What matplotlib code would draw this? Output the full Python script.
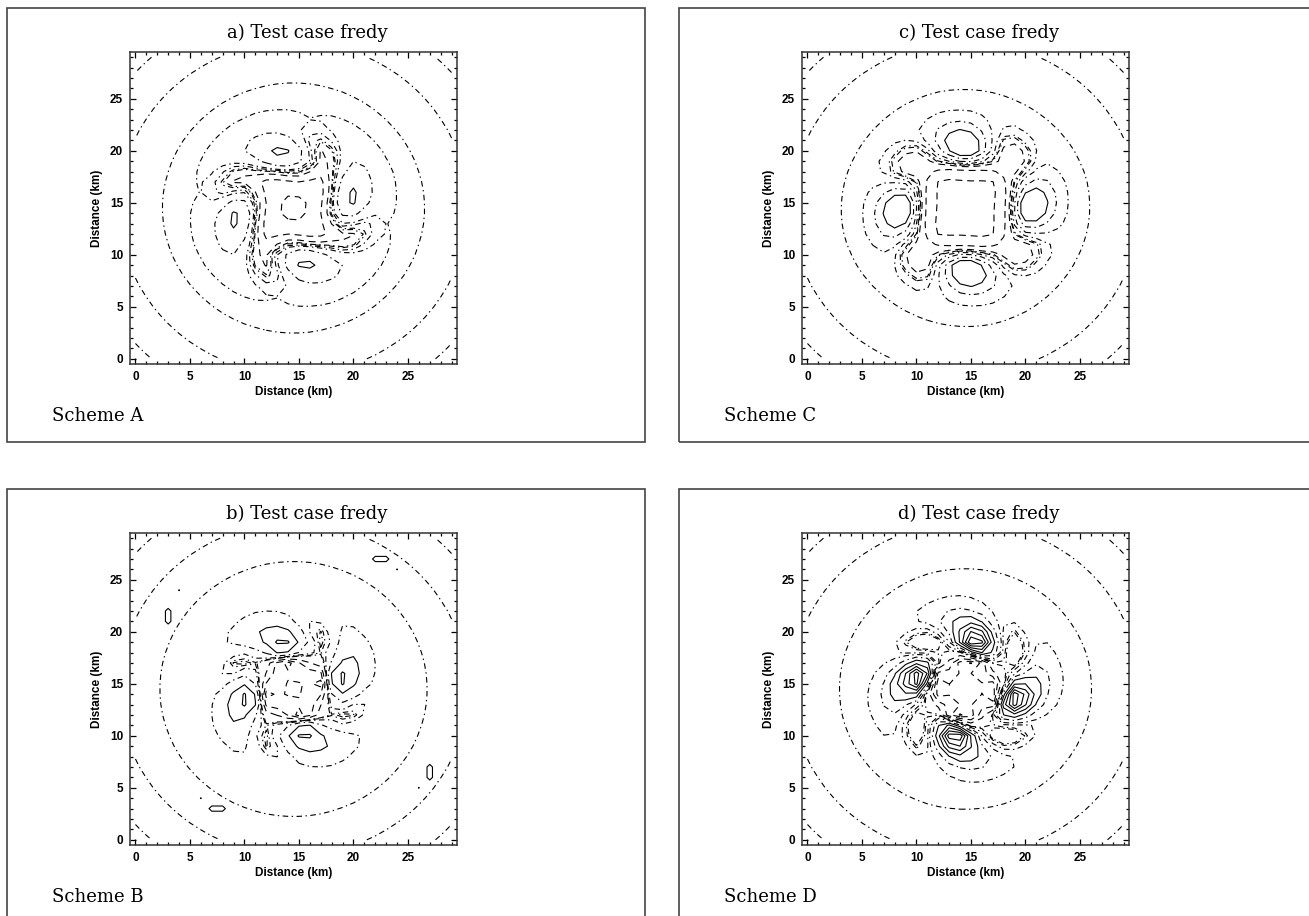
import numpy as np
import matplotlib.pyplot as plt
from matplotlib.patches import Rectangle

plt.rcParams['lines.scale_dashes'] = False

W, H = 1309, 916

titles = ["a) Test case fredy", "b) Test case fredy",
          "c) Test case fredy", "d) Test case fredy"]
schemes = ["Scheme A", "Scheme B", "Scheme C", "Scheme D"]
ticks = [0, 5, 10, 15, 20, 25]

# 30 x 30 grid, 1 km spacing, vortex centre
n = 30
xc, yc = 14.5, 14.5

# satellite maxima of each scheme (km)
sat_a_x = [13.5, 19.5, 15.4, 9.5]
sat_a_y = [19.5, 15.3, 9.5, 13.7]
sat_b_x = [13.5, 18.5, 15.5, 10.5]
sat_b_y = [18.5, 15.5, 10.5, 13.5]
sat_c_x = [14.5, 20.2, 14.5, 8.9]
sat_c_y = [20.0, 14.5, 9.0, 14.5]
sat_d_x = [15.3, 18.7, 13.6, 10.4]
sat_d_y = [18.8, 13.6, 10.2, 15.5]
sat_amp = [0.35, 1.15, 0.55, 2.4]
sat_width = [0.9, 0.9, 1.0, 1.3]

# core depth, core edge, central dip of each scheme
core_depth = [0.5, 0.9, 1.0, 1.0]
core_r0 = [4.2, 3.4, 4.6, 3.4]
core_dip = [0.5, 0.4, 0.0, 0.6]

# wavenumber-4 spiral band of each scheme
mod_amp = [0.9, 0.8, 1.0, 1.0]
mod_r = [5.5, 5.2, 6.3, 5.5]
mod_phase = [10.0, 14.0, 0.0, -10.5]
mod_twist = [0.45, 0.5, 0.15, 0.45]

# inner negative arcs facing the satellites (schemes B and D)
arc_amp = [0.0, -0.9, 0.0, -2.0]
arc_r = [3.0, 2.6, 3.0, 3.0]

# isolated grid-point spikes of scheme B
spike_b_i = [3, 3, 4, 22, 23, 24, 27, 27, 26, 7, 8, 6]
spike_b_j = [21, 22, 24, 27, 27, 26, 7, 6, 5, 3, 3, 4]
spike_b_v = [1.6, 1.6, 1.25, 1.6, 1.6, 1.25, 1.6, 1.6, 1.25, 1.6, 1.6, 1.25]

# contour levels of each scheme
levels_a = [-0.8, -0.4, -0.1, 0.05, 0.1, 0.22, 0.35, 0.8, 1.6]
levels_b = [-1.6, -1.2, -0.8, -0.4, 0.05, 0.1, 0.21, 0.55, 1.2, 2.0]
levels_c = [-0.9, -0.5, -0.1, 0.05, 0.1, 0.25, 0.45, 0.8, 1.2, 2.0]
levels_d = [-2.4, -2.0, -1.6, -1.2, -0.8, -0.4, 0.05, 0.1, 0.24, 0.45, 0.8,
            1.2, 1.7, 2.2, 2.7, 3.2]

DASH = (0, (5, 3.5))
DASHDOT = (0, (4, 2.5, 1, 2.5))


def styles(levels):
    out = []
    for v in levels:
        if v < 0:
            out.append(DASH)
        elif v < 1.0:
            out.append(DASHDOT)
        else:
            out.append('solid')
    return out


def field(k, sx, sy):
    X, Y = np.meshgrid(np.arange(n, dtype=float), np.arange(n, dtype=float))
    r = np.hypot(X - xc, Y - yc)
    th = np.arctan2(Y - yc, X - xc)
    s = 1.0 / (1.0 + np.exp(-(r - core_r0[k]) / 0.5))
    f = 2.37 * np.exp(-r / 5.05) * s - core_depth[k] * (1 - s)
    f -= core_dip[k] * np.exp(-(r / 1.8) ** 2)
    phase = 4 * (th - np.radians(mod_phase[k]))
    f += mod_amp[k] * np.exp(-((r - mod_r[k]) / 2.0) ** 2) * np.cos(
        phase - mod_twist[k] * (r - 5.0))
    f += arc_amp[k] * np.exp(-((r - arc_r[k]) / 0.7) ** 2) * (1 + np.cos(phase)) / 2
    for x0, y0 in zip(sx, sy):
        f += sat_amp[k] * np.exp(-((X - x0) ** 2 + (Y - y0) ** 2) / sat_width[k] ** 2)
    return f


fa = field(0, sat_a_x, sat_a_y)
fb = field(1, sat_b_x, sat_b_y)
fc = field(2, sat_c_x, sat_c_y)
fd = field(3, sat_d_x, sat_d_y)

# spikes only carry the solid isoline
spikes_b = np.zeros((n, n))
for i, j, v in zip(spike_b_i, spike_b_j, spike_b_v):
    spikes_b[j, i] = v

fields = [fa, fb, fc, fd]
levels = [levels_a, levels_b, levels_c, levels_d]

fig = plt.figure(figsize=(W / 100, H / 100), dpi=100)

# framed boxes, top-left corners in pixels
box_x = [7, 7, 679, 679]
box_y = [8, 489, 8, 489]

serif = 'DejaVu Serif'
sans = 'Liberation Sans'

for k in range(4):
    bx, by = box_x[k], box_y[k]
    fig.add_artist(Rectangle((bx / W, 1 - (by + 434) / H), 638 / W, 434 / H,
                             transform=fig.transFigure, fill=False,
                             edgecolor='#444444', lw=1.2))
    ax = fig.add_axes([(bx + 123) / W, 1 - (by + 356) / H, 327 / W, 312 / H])
    ax.contour(np.arange(n), np.arange(n), fields[k], levels=levels[k],
               colors='black', linewidths=0.8, linestyles=styles(levels[k]))
    if k == 1:
        ax.contour(np.arange(n), np.arange(n), spikes_b, levels=[1.2],
                   colors='black', linewidths=0.8)
    ax.set_xlim(-0.5, 29.5)
    ax.set_ylim(-0.5, 29.5)
    ax.set_xticks(ticks)
    ax.set_yticks(ticks)
    ax.set_xticks(np.arange(0, 30), minor=True)
    ax.set_yticks(np.arange(0, 30), minor=True)
    ax.tick_params(which='both', direction='in', top=True, right=True,
                   width=0.9, labelsize=8.5)
    ax.tick_params(which='major', length=4.5, pad=5)
    ax.tick_params(which='minor', length=2.2)
    for lab in ax.get_xticklabels() + ax.get_yticklabels():
        lab.set_fontfamily(sans)
        lab.set_fontweight('bold')
    for sp in ax.spines.values():
        sp.set_linewidth(1.1)
        sp.set_color('#333333')
    ax.set_xlabel("Distance (km)", fontfamily=sans, fontweight='bold',
                  fontsize=8.5, labelpad=2)
    ax.set_ylabel("Distance (km)", fontfamily=sans, fontweight='bold',
                  fontsize=8.5, labelpad=5)
    fig.text((bx + 300) / W, 1 - (by + 25) / H, titles[k], fontfamily=serif,
             fontsize=13, ha='center', va='center')
    fig.text((bx + 45) / W, 1 - (by + 408) / H, schemes[k], fontfamily=serif,
             fontsize=13, ha='left', va='center')

fig.savefig("out.png", dpi=100)
